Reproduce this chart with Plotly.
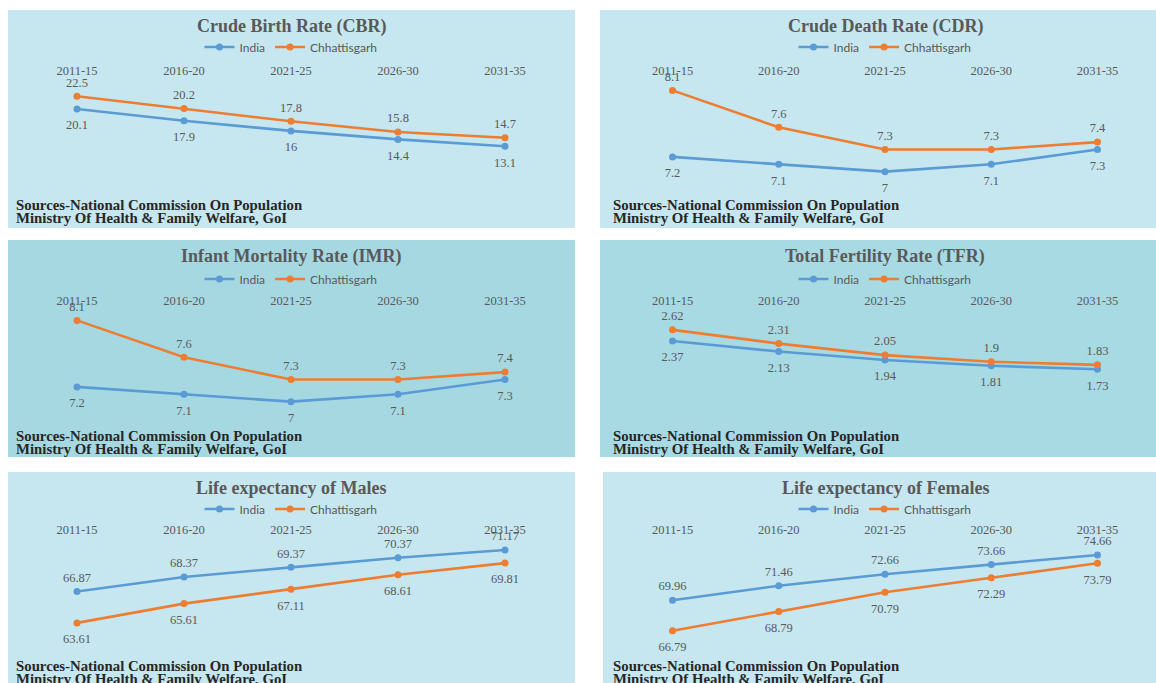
import plotly.graph_objects as go

# ---- data -------------------------------------------------------------
periods = ["2011-15", "2016-20", "2021-25", "2026-30", "2031-35"]

cbr_india = [20.1, 17.9, 16, 14.4, 13.1]
cbr_chh = [22.5, 20.2, 17.8, 15.8, 14.7]

cdr_india = [7.2, 7.1, 7, 7.1, 7.3]
cdr_chh = [8.1, 7.6, 7.3, 7.3, 7.4]

imr_india = [7.2, 7.1, 7, 7.1, 7.3]
imr_chh = [8.1, 7.6, 7.3, 7.3, 7.4]

tfr_india = [2.37, 2.13, 1.94, 1.81, 1.73]
tfr_chh = [2.62, 2.31, 2.05, 1.9, 1.83]

le_male_india = [66.87, 68.37, 69.37, 70.37, 71.17]
le_male_chh = [63.61, 65.61, 67.11, 68.61, 69.81]

le_female_india = [69.96, 71.46, 72.66, 73.66, 74.66]
le_female_chh = [66.79, 68.79, 70.79, 72.29, 73.79]

titles = [
    "Crude Birth Rate (CBR)",
    "Crude Death Rate (CDR)",
    "Infant Mortality Rate (IMR)",
    "Total Fertility Rate (TFR)",
    "Life expectancy of Males",
    "Life expectancy of Females",
]
series_names = ["India", "Chhattisgarh"]
source_lines = [
    "Sources-National Commission On Population",
    "Ministry Of Health & Family Welfare, GoI",
]

# ---- styling ----------------------------------------------------------
W, H = 1156, 683
BLUE = "#5B9BD5"
ORANGE = "#ED7D31"
GREY = "#595959"
SERIF = "Liberation Serif"
SANS = "Lato"


def fx(x):
    return x / W


def fy(y):
    return 1 - y / H


panels = [
    # india, chh, y-range, india label side, chh label side
    (cbr_india, cbr_chh, [0, 25], "bottom center", "top center"),
    (cdr_india, cdr_chh, [6.4, 8.2], "bottom center", "top center"),
    (imr_india, imr_chh, [6.4, 8.2], "bottom center", "top center"),
    (tfr_india, tfr_chh, [0, 3], "bottom center", "top center"),
    (le_male_india, le_male_chh, [58, 72], "top center", "bottom center"),
    (le_female_india, le_female_chh, [62, 76], "top center", "bottom center"),
]

# panel boxes (left, top, right, bottom) in pixels
boxes = [
    (8, 10, 575, 228), (600, 10, 1160, 228),
    (8, 240, 575, 457), (600, 240, 1160, 457),
    (8, 472, 575, 690), (603, 472, 1160, 690),
]
box_colors = ["#C6E7EF", "#C6E7EF", "#A6D8E2", "#A8DAE4", "#C6E7EF", "#C6E7EF"]

col_plot_x = [(23.5, 558.5), (619.4, 1150.6)]
row_plot_y = [(83, 216), (313, 446), (542, 677)]
col_center = [291, 885]
row_title_y = [26, 256, 488]
row_legend_y = [47, 279, 509]
row_source_y = [205, 436, 666]
col_source_x = [14, 611]

# spacing between a point and its value label (sized via a hidden marker)
label_gap = {"top center": 9, "bottom center": 16}

fig = go.Figure()
layout = dict(
    width=W, height=H,
    margin=dict(l=0, r=0, t=0, b=0),
    paper_bgcolor="white",
    plot_bgcolor="rgba(0,0,0,0)",
    shapes=[], annotations=[],
)

for i, (india, chh, yr, ipos, cpos) in enumerate(panels):
    r, c = divmod(i, 2)
    n = i + 1
    xa = "x" if n == 1 else f"x{n}"
    ya = "y" if n == 1 else f"y{n}"
    leg = "legend" if n == 1 else f"legend{n}"

    L, T, R, B = boxes[i]
    layout["shapes"].append(dict(
        type="rect", xref="paper", yref="paper",
        x0=fx(L), x1=fx(R), y0=fy(B), y1=fy(T),
        fillcolor=box_colors[i], line=dict(width=0), layer="below",
    ))

    x0, x1 = col_plot_x[c]
    y0, y1 = row_plot_y[r]
    layout["xaxis" if n == 1 else f"xaxis{n}"] = dict(
        domain=[fx(x0), fx(x1)], anchor=ya, type="category",
        range=[-0.5, 4.5], side="top", showgrid=False, zeroline=False,
        showline=False, ticks="", ticklabelstandoff=5, fixedrange=True,
        tickfont=dict(family=SERIF, size=12.5, color=GREY),
    )
    layout["yaxis" if n == 1 else f"yaxis{n}"] = dict(
        domain=[fy(y1), fy(y0)], anchor=xa, range=yr, visible=False,
        fixedrange=True,
    )

    for name, vals, color, pos in (
        (series_names[0], india, BLUE, ipos),
        (series_names[1], chh, ORANGE, cpos),
    ):
        fig.add_trace(go.Scatter(
            x=periods, y=vals, name=name, mode="lines+markers",
            line=dict(color=color, width=2.6),
            marker=dict(color=color, size=7),
            xaxis=xa, yaxis=ya, legend=leg, hoverinfo="skip",
            cliponaxis=False,
        ))
        fig.add_trace(go.Scatter(
            x=periods, y=vals, mode="markers+text",
            marker=dict(size=label_gap[pos], opacity=0),
            text=[f"{v:g}" for v in vals], textposition=pos,
            textfont=dict(family=SERIF, size=12.5, color=GREY),
            xaxis=xa, yaxis=ya, showlegend=False, hoverinfo="skip",
            cliponaxis=False,
        ))

    layout[leg] = dict(
        orientation="h", x=fx(col_center[c]), y=fy(row_legend_y[r]),
        xanchor="center", yanchor="middle", bgcolor="rgba(0,0,0,0)",
        font=dict(family=SANS, size=12, color=GREY),
        itemwidth=30, tracegroupgap=0,
    )

    layout["annotations"].append(dict(
        text=f"<b>{titles[i]}</b>", xref="paper", yref="paper",
        x=fx(col_center[c]), y=fy(row_title_y[r]),
        xanchor="center", yanchor="middle", showarrow=False,
        font=dict(family=SERIF, size=18, color=GREY),
    ))
    for k, line in enumerate(source_lines):
        layout["annotations"].append(dict(
            text=f"<b>{line}</b>", xref="paper", yref="paper",
            x=fx(col_source_x[c]), y=fy(row_source_y[r] + 13 * k),
            xanchor="left", yanchor="middle", showarrow=False,
            font=dict(family=SERIF, size=14.8, color="#262626"),
        ))

fig.update_layout(**layout)
fig.write_html("out.html")
